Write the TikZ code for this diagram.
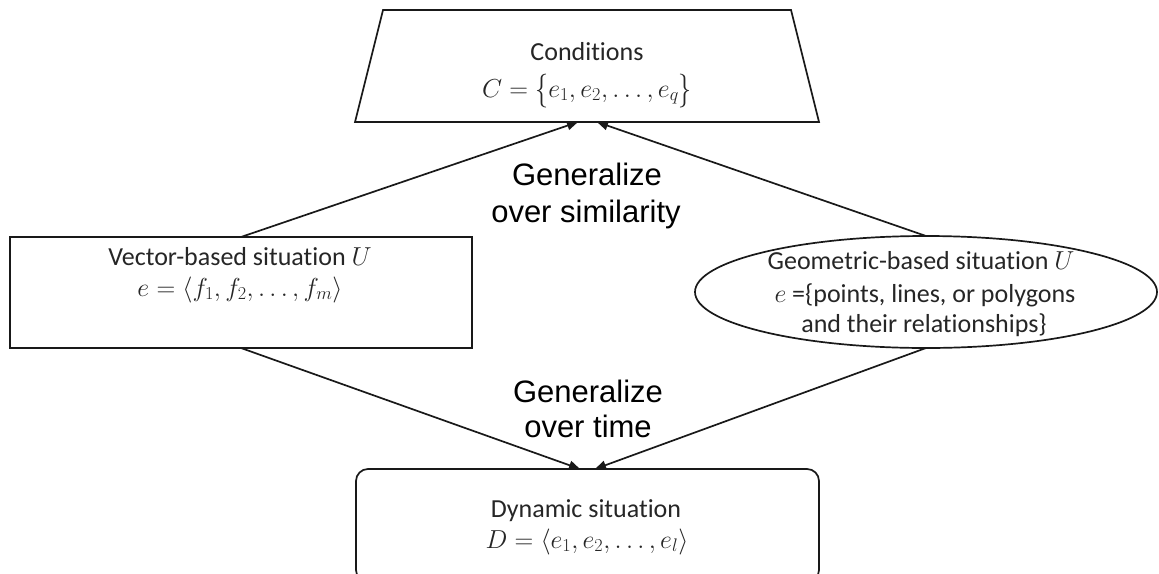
\documentclass[tikz,border=0pt]{standalone}
\usepackage{fix-cm}
\usepackage{fontspec}
\setmainfont[Ligatures=NoCommon]{Carlito}
\newfontfamily\labelfont{Liberation Sans}
\usetikzlibrary{arrows.meta,calc,shapes.geometric}
% tall set braces
\newcommand{\tallopen}{\mathopen{\raisebox{-2pt}{\scalebox{1}[1.3]{$\{$}}}}
\newcommand{\tallclose}{\mathclose{\raisebox{-2pt}{\scalebox{1}[1.3]{$\}$}}}}

\begin{document}
\begin{tikzpicture}[x=1pt,y=-1pt,
  shapeline/.style={draw=black!90, line width=1.7pt},
  frame/.style={inner sep=0pt, outer sep=0pt},
  boxtext/.style={font=\fontsize{26}{30}\selectfont, text=black!85, anchor=base, inner sep=0pt},
  gentext/.style={font=\labelfont\fontsize{31}{35}\selectfont, text=black, anchor=base, inner sep=0pt},
  conn/.style={draw=black!90, line width=1.7pt, -{Triangle[length=11pt,width=9pt]}},
]
\useasboundingbox[fill=white] (0,0) rectangle (1159,573);

% frames of the four situations
\node[frame, minimum width=408pt, minimum height=112pt] (cond) at (587,66) {};
\draw[shapeline] (cond.north west) -- (cond.north east)
  -- ($(cond.south east)+(28,0)$) -- ($(cond.south west)+(-28,0)$) -- cycle;

\node[frame, shapeline, rectangle, minimum width=462pt, minimum height=111pt] (vec) at (241,292.5) {};
\node[frame, shapeline, ellipse, minimum width=462pt, minimum height=112pt] (ell) at (926,292) {};
\node[frame, shapeline, rectangle, rounded corners=12pt, minimum width=463pt, minimum height=113pt] (dyn) at (587.5,525.5) {};

% texts
\node[boxtext] (condA) at (587,60) {Conditions};
\node[boxtext] (condB) at (587,97) {$C = \tallopen e_1, e_2, \ldots, e_q\tallclose$};
\node[boxtext] (vecA) at (240,265) {Vector-based situation $U$};
\node[boxtext] (vecB) at (240,296) {$e = \langle f_1, f_2, \ldots, f_m\rangle$};
\node[boxtext] (ellA) at (921,269) {Geometric-based situation $U$};
\node[boxtext] (ellB) at (925,302) {$e$ =\{points, lines, or polygons};
\node[boxtext] (ellC) at (924,332) {and their relationships\}};
\node[boxtext] (dynA) at (586,517) {Dynamic situation};
\node[boxtext] (dynB) at (587,548) {$D = \langle e_1, e_2, \ldots, e_l\rangle$};

\node[gentext] (simA) at (587,185) {Generalize};
\node[gentext] (simB) at (586,222) {over similarity};
\node[gentext] (timA) at (588,402) {Generalize};
\node[gentext] (timB) at (588,437) {over time};

% generalization connectors
\draw[conn] (vec.north) -- ($(cond.south)+(-9,0)$);
\draw[conn] (ell.north) -- ($(cond.south)+(10,0)$);
\draw[conn] (vec.south) -- ($(dyn.north)+(-7.5,0)$);
\draw[conn] (ell.south) -- ($(dyn.north)+(7.5,0)$);
\end{tikzpicture}
\end{document}
